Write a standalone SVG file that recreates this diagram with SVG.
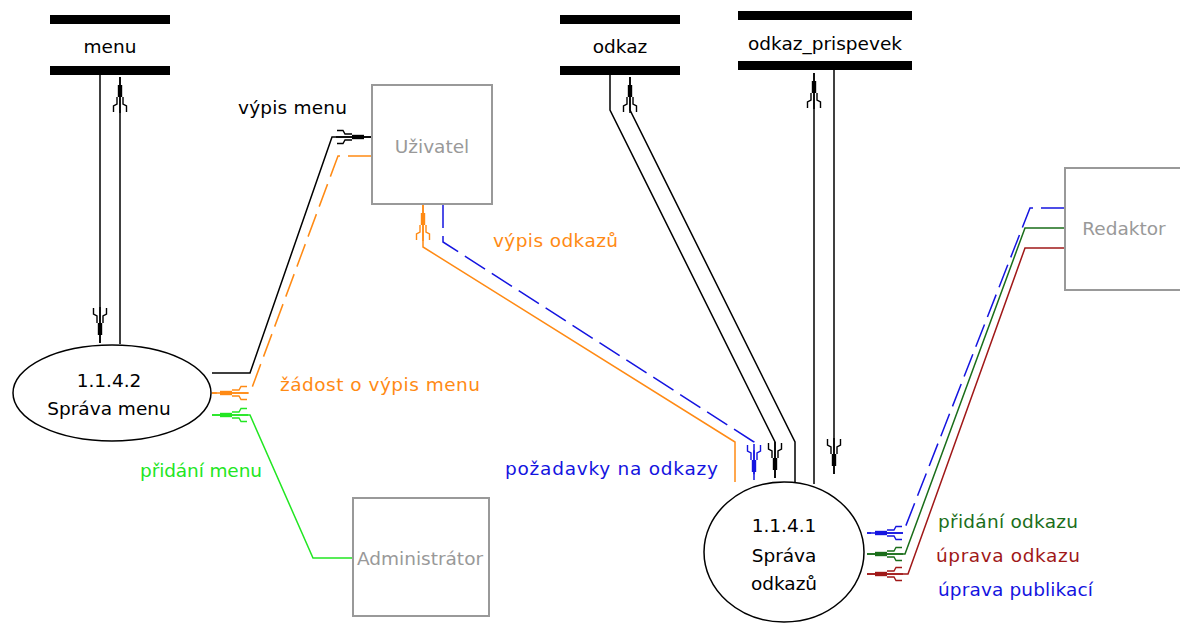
<svg xmlns="http://www.w3.org/2000/svg" width="1180" height="623" viewBox="0 0 1180 623">
<style>
text{font-family:"DejaVu Sans",Verdana,sans-serif;font-size:18.5px}
.mid{text-anchor:middle}
.ent rect{fill:#fff;stroke:#999;stroke-width:2}
.ent text{fill:#999}
.proc ellipse{fill:#fff;stroke:#000;stroke-width:1.5}
.bar{fill:#000}
.c{fill:none;stroke-width:1.5}
.k{stroke:#000}
.o{stroke:#ff8a14}
.g{stroke:#22e622}
.b{stroke:#1414e0}
.dg{stroke:#1a6e1a}
.r{stroke:#a01818}
.dash{stroke-dasharray:24 8}
</style>
<defs>
<marker id="mk" viewBox="-36 -8 38 16" refX="0" refY="0" markerWidth="38" markerHeight="16" markerUnits="userSpaceOnUse" orient="auto">
<path d="M-36,0 H0" fill="none" stroke="#000" stroke-width="1.5"/>
<rect x="-20" y="-2.2" width="12" height="4.4" fill="#000"/>
<path d="M-20,-3 L-27,-3 L-29,-6.5 L-35,-6.5 M-20,3 L-27,3 L-29,6.5 L-35,6.5" fill="none" stroke="#000" stroke-width="1.4"/>
</marker>
<marker id="mo" viewBox="-36 -8 38 16" refX="0" refY="0" markerWidth="38" markerHeight="16" markerUnits="userSpaceOnUse" orient="auto">
<path d="M-36,0 H0" fill="none" stroke="#ff8a14" stroke-width="1.5"/>
<rect x="-20" y="-2.2" width="12" height="4.4" fill="#ff8a14"/>
<path d="M-20,-3 L-27,-3 L-29,-6.5 L-35,-6.5 M-20,3 L-27,3 L-29,6.5 L-35,6.5" fill="none" stroke="#ff8a14" stroke-width="1.4"/>
</marker>
<marker id="mg" viewBox="-36 -8 38 16" refX="0" refY="0" markerWidth="38" markerHeight="16" markerUnits="userSpaceOnUse" orient="auto">
<path d="M-36,0 H0" fill="none" stroke="#22e622" stroke-width="1.5"/>
<rect x="-20" y="-2.2" width="12" height="4.4" fill="#22e622"/>
<path d="M-20,-3 L-27,-3 L-29,-6.5 L-35,-6.5 M-20,3 L-27,3 L-29,6.5 L-35,6.5" fill="none" stroke="#22e622" stroke-width="1.4"/>
</marker>
<marker id="mb" viewBox="-36 -8 38 16" refX="0" refY="0" markerWidth="38" markerHeight="16" markerUnits="userSpaceOnUse" orient="auto">
<path d="M-36,0 H0" fill="none" stroke="#1414e0" stroke-width="1.5"/>
<rect x="-20" y="-2.2" width="12" height="4.4" fill="#1414e0"/>
<path d="M-20,-3 L-27,-3 L-29,-6.5 L-35,-6.5 M-20,3 L-27,3 L-29,6.5 L-35,6.5" fill="none" stroke="#1414e0" stroke-width="1.4"/>
</marker>
<marker id="mdg" viewBox="-36 -8 38 16" refX="0" refY="0" markerWidth="38" markerHeight="16" markerUnits="userSpaceOnUse" orient="auto">
<path d="M-36,0 H0" fill="none" stroke="#1a6e1a" stroke-width="1.5"/>
<rect x="-20" y="-2.2" width="12" height="4.4" fill="#1a6e1a"/>
<path d="M-20,-3 L-27,-3 L-29,-6.5 L-35,-6.5 M-20,3 L-27,3 L-29,6.5 L-35,6.5" fill="none" stroke="#1a6e1a" stroke-width="1.4"/>
</marker>
<marker id="mr" viewBox="-36 -8 38 16" refX="0" refY="0" markerWidth="38" markerHeight="16" markerUnits="userSpaceOnUse" orient="auto">
<path d="M-36,0 H0" fill="none" stroke="#a01818" stroke-width="1.5"/>
<rect x="-20" y="-2.2" width="12" height="4.4" fill="#a01818"/>
<path d="M-20,-3 L-27,-3 L-29,-6.5 L-35,-6.5 M-20,3 L-27,3 L-29,6.5 L-35,6.5" fill="none" stroke="#a01818" stroke-width="1.4"/>
</marker>
</defs>
<rect width="1180" height="623" fill="#fff"/>

<g id="connectors">
<path class="c k" d="M100,75 V343" marker-end="url(#mk)"/>
<path class="c k" d="M120,344 V77" marker-end="url(#mk)"/>
<path class="c k" d="M212,373 H250 L332,137 H372" marker-end="url(#mk)"/>
<path class="c o dash" d="M372,156 H338 L250,393 H212" marker-end="url(#mo)"/>
<path class="c g" d="M353,558 H313 L250,415 H212" marker-end="url(#mg)"/>
<path class="c o" d="M735,482 V442 L423,247 V205" marker-end="url(#mo)"/>
<path class="c b dash" d="M443,204 V242 L754,442 V480" marker-end="url(#mb)"/>
<path class="c k" d="M610,75 V110 L775,442 V478" marker-end="url(#mk)"/>
<path class="c k" d="M795,482 V442 L630,110 V77" marker-end="url(#mk)"/>
<path class="c k" d="M814,484 V73" marker-end="url(#mk)"/>
<path class="c k" d="M834,70 V474" marker-end="url(#mk)"/>
<path class="c b dash" d="M1065,208 H1030 L903,533 H867" marker-end="url(#mb)"/>
<path class="c dg" d="M1065,228 H1025 L905,554 H867" marker-end="url(#mdg)"/>
<path class="c r" d="M1065,248 H1025 L908,574 H867" marker-end="url(#mr)"/>
</g>

<g id="store-menu">
<rect class="bar" x="50" y="15" width="120" height="9"/>
<rect class="bar" x="50" y="66" width="120" height="9"/>
<text class="mid" x="110" y="53">menu</text>
</g>
<g id="store-odkaz">
<rect class="bar" x="560" y="15" width="120" height="9"/>
<rect class="bar" x="560" y="66" width="120" height="9"/>
<text class="mid" x="620" y="53">odkaz</text>
</g>
<g id="store-odkaz-prispevek">
<rect class="bar" x="738" y="11" width="174" height="9"/>
<rect class="bar" x="738" y="61" width="174" height="9"/>
<text class="mid" x="825" y="50">odkaz_prispevek</text>
</g>

<g id="ent-uzivatel" class="ent">
<rect x="372" y="85" width="120" height="119"/>
<text class="mid" x="432" y="153">Uživatel</text>
</g>
<g id="ent-administrator" class="ent">
<rect x="353" y="498" width="136" height="118"/>
<text class="mid" x="420" y="565">Administrátor</text>
</g>
<g id="ent-redaktor" class="ent">
<rect x="1065" y="168" width="125" height="122"/>
<text class="mid" x="1124" y="235">Redaktor</text>
</g>

<g id="proc-1142" class="proc">
<ellipse cx="112" cy="393" rx="99" ry="48"/>
<text class="mid" x="109" y="387">1.1.4.2</text>
<text class="mid" x="109" y="415">Správa menu</text>
</g>
<g id="proc-1141" class="proc">
<ellipse cx="784" cy="552" rx="80" ry="70"/>
<text class="mid" x="784" y="532">1.1.4.1</text>
<text class="mid" x="784" y="562">Správa</text>
<text class="mid" x="784" y="590">odkazů</text>
</g>

<g id="labels">
<text x="238" y="114" fill="#000" textLength="109">výpis menu</text>
<text x="280" y="391" fill="#ff8a14" textLength="200">žádost o výpis menu</text>
<text x="140" y="477" fill="#22e622" textLength="122">přidání menu</text>
<text x="493" y="247" fill="#ff8a14" textLength="125">výpis odkazů</text>
<text x="505" y="475" fill="#1414e0" textLength="213">požadavky na odkazy</text>
<text x="938" y="528" fill="#1a6e1a" textLength="140">přidání odkazu</text>
<text x="936" y="562" fill="#a01818" textLength="144">úprava odkazu</text>
<text x="938" y="596" fill="#1414e0" textLength="155">úprava publikací</text>
</g>
</svg>
